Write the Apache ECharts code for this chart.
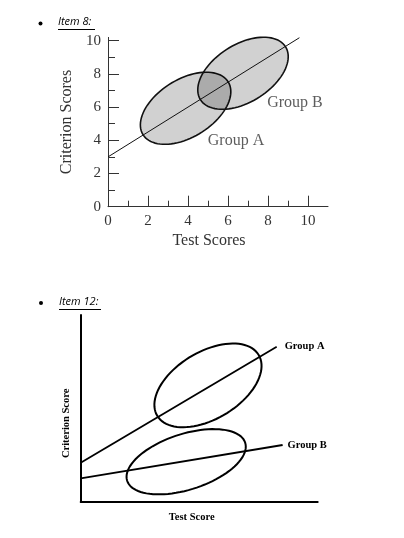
<!DOCTYPE html>
<html>
<head>
<meta charset="utf-8">
<title>Item 8 / Item 12</title>
<script src="https://cdn.jsdelivr.net/npm/echarts@6/dist/echarts.min.js"></script>
<style>
  html, body { margin: 0; padding: 0; background: #fff; }
  #chart { width: 404px; height: 538px; }
</style>
</head>
<body>
<div id="chart"></div>
<script>
// Item 8 数据
var xTicks8 = [0, 2, 4, 6, 8, 10];
var xMinor8 = [1, 3, 5, 7, 9];
var yTicks8 = [0, 2, 4, 6, 8, 10];
var yMinor8 = [1, 3, 5, 7, 9];
var line8 = [[0, 3], [9.57, 10.18]];
// ellipse: [cx, cy, major dx, major dy, minor dx, minor dy]
var ellipseA8 = [3.88, 5.93, 2.13, 1.59, -0.76, 1.48];
var ellipseB8 = [6.75, 8.04, 2.13, 1.59, -0.76, 1.48];
var groupNames = ['Group A', 'Group B'];
var labelAt8 = [[6.4, 3.98], [9.35, 6.29]];

// Item 12 数据
var lineA12 = [[0, 2.09], [8.27, 8.30]];
var lineB12 = [[0, 1.25], [8.52, 3.04]];
var ellipseA12 = [5.37, 6.23, 2.14, 1.63, -0.73, 1.54];
var ellipseB12 = [4.45, 2.14, 2.49, 1.02, -0.36, 1.42];

var serif = '"Liberation Serif", "DejaVu Serif", serif';

function ellipseRender(fill, stroke, width) {
    return function (params, api) {
        var cx = api.value(0), cy = api.value(1);
        var ux = api.value(2), uy = api.value(3);
        var vx = api.value(4), vy = api.value(5);
        var pts = [];
        for (var i = 0; i < 90; i++) {
            var t = i / 90 * Math.PI * 2;
            pts.push(api.coord([
                cx + ux * Math.cos(t) + vx * Math.sin(t),
                cy + uy * Math.cos(t) + vy * Math.sin(t)
            ]));
        }
        return {
            type: 'polygon',
            shape: { points: pts },
            style: { fill: fill, stroke: stroke, lineWidth: width }
        };
    };
}

function lastLabel(pts) {
    var d = pts.slice(0, pts.length - 1);
    d.push({ value: pts[pts.length - 1], label: { show: true } });
    return d;
}

var myChart = echarts.init(document.getElementById('chart'));

var option = {
    animation: false,
    backgroundColor: '#fff',
    graphic: [
        { type: 'circle', shape: { cx: 40.5, cy: 23.5, r: 2 }, style: { fill: '#000' } },
        { type: 'text', left: 58, top: 16, style: { text: 'Item 8:', font: 'italic 11px "Open Sans"', fill: '#000' } },
        { type: 'line', shape: { x1: 58, y1: 29.5, x2: 95, y2: 29.5 }, style: { stroke: '#000', lineWidth: 1 } },
        { type: 'circle', shape: { cx: 41, cy: 303, r: 2 }, style: { fill: '#000' } },
        { type: 'text', left: 59, top: 296, style: { text: 'Item 12:', font: 'italic 11px "Open Sans"', fill: '#000' } },
        { type: 'line', shape: { x1: 59, y1: 309.5, x2: 101, y2: 309.5 }, style: { stroke: '#000', lineWidth: 1 } }
    ],
    grid: [
        { left: 108, top: 37.4, width: 220, height: 169.3 },
        { left: 80.7, top: 315, width: 237, height: 186.7 }
    ],
    xAxis: [
        {
            gridIndex: 0, type: 'value', min: 0, max: 11,
            name: 'Test Scores', nameLocation: 'middle', nameGap: 26,
            nameTextStyle: { fontFamily: serif, fontSize: 16, color: '#333', padding: [0, 18, 0, 0] },
            axisLine: { lineStyle: { color: '#333', width: 1 } },
            axisTick: { customValues: xTicks8, inside: true, length: 11, lineStyle: { color: '#333' } },
            axisLabel: { customValues: xTicks8, margin: 7, fontFamily: serif, fontSize: 15, color: '#333' },
            splitLine: { show: false }
        },
        {
            gridIndex: 0, type: 'value', min: 0, max: 11, position: 'bottom',
            axisLine: { show: false },
            axisTick: { customValues: xMinor8, inside: true, length: 6, lineStyle: { color: '#333' } },
            axisLabel: { show: false },
            splitLine: { show: false }
        },
        {
            gridIndex: 1, type: 'value', min: 0, max: 10,
            name: 'Test Score', nameLocation: 'middle', nameGap: 10,
            nameTextStyle: { fontFamily: serif, fontSize: 10.5, fontWeight: 'bold', color: '#000', padding: [0, 15, 0, 0] },
            axisLine: { lineStyle: { color: '#000', width: 2 } },
            axisTick: { show: false },
            axisLabel: { show: false },
            splitLine: { show: false }
        }
    ],
    yAxis: [
        {
            gridIndex: 0, type: 'value', min: 0, max: 10.2,
            name: 'Criterion Scores', nameLocation: 'middle', nameGap: 33,
            nameTextStyle: { fontFamily: serif, fontSize: 16, color: '#333' },
            axisLine: { show: true, lineStyle: { color: '#333', width: 1 } },
            axisTick: { show: true, customValues: yTicks8, inside: true, length: 11, lineStyle: { color: '#333' } },
            axisLabel: { customValues: yTicks8, margin: 7, fontFamily: serif, fontSize: 15, color: '#333' },
            splitLine: { show: false }
        },
        {
            gridIndex: 0, type: 'value', min: 0, max: 10.2, position: 'left',
            axisLine: { show: false },
            axisTick: { show: true, customValues: yMinor8, inside: true, length: 7, lineStyle: { color: '#333' } },
            axisLabel: { show: false },
            splitLine: { show: false }
        },
        {
            gridIndex: 1, type: 'value', min: 0, max: 10,
            name: 'Criterion Score', nameLocation: 'middle', nameGap: 9,
            nameTextStyle: { fontFamily: serif, fontSize: 10.5, fontWeight: 'bold', color: '#000', padding: [0, 30, 0, 0] },
            axisLine: { show: true, lineStyle: { color: '#000', width: 2 } },
            axisTick: { show: false },
            axisLabel: { show: false },
            splitLine: { show: false }
        }
    ],
    series: [
        // Item 8
        {
            type: 'custom', xAxisIndex: 0, yAxisIndex: 0, clip: false, z: 1,
            renderItem: ellipseRender('rgba(0,0,0,0.18)', '#111', 1.6),
            encode: { x: 0, y: 1 },
            data: [ellipseA8, ellipseB8]
        },
        {
            type: 'line', xAxisIndex: 0, yAxisIndex: 0, symbol: 'none', z: 3,
            lineStyle: { color: '#111', width: 1 },
            data: line8
        },
        {
            type: 'scatter', xAxisIndex: 0, yAxisIndex: 0, symbolSize: 0, z: 4, silent: true,
            label: { show: true, position: 'inside', formatter: '{b}', fontFamily: serif, fontSize: 16, color: '#333' },
            data: groupNames.map(function (n, i) { return { name: n, value: labelAt8[i] }; })
        },
        // Item 12
        {
            type: 'custom', xAxisIndex: 2, yAxisIndex: 2, clip: false, z: 2,
            renderItem: ellipseRender('none', '#000', 2),
            encode: { x: 0, y: 1 },
            data: [ellipseA12, ellipseB12]
        },
        {
            name: 'Group A', type: 'line', xAxisIndex: 2, yAxisIndex: 2, symbol: 'circle', symbolSize: 0, z: 3,
            lineStyle: { color: '#000', width: 1.8 },
            label: { show: false, position: 'right', distance: 8, formatter: '{a}', fontFamily: serif, fontSize: 10.5, fontWeight: 'bold', color: '#000' },
            data: lastLabel(lineA12)
        },
        {
            name: 'Group B', type: 'line', xAxisIndex: 2, yAxisIndex: 2, symbol: 'circle', symbolSize: 0, z: 3,
            lineStyle: { color: '#000', width: 2 },
            label: { show: false, position: 'right', distance: 5, formatter: '{a}', fontFamily: serif, fontSize: 10.5, fontWeight: 'bold', color: '#000' },
            data: lastLabel(lineB12)
        }
    ]
};

myChart.setOption(option);
</script>
</body>
</html>
